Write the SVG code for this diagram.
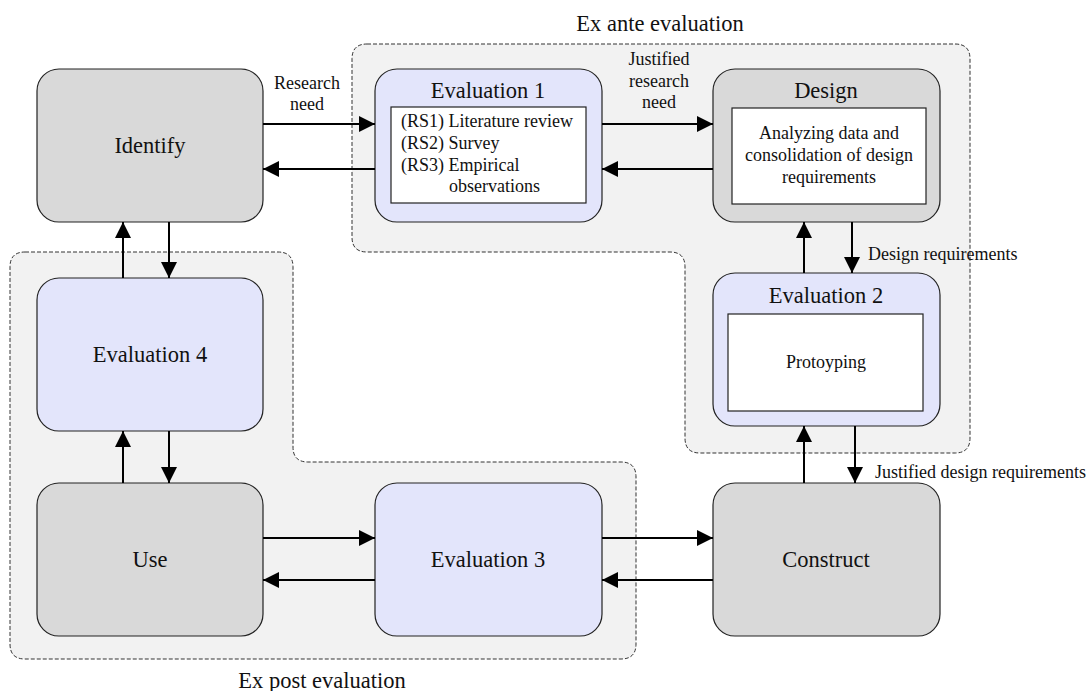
<svg xmlns="http://www.w3.org/2000/svg" width="1091" height="691" viewBox="0 0 1091 691" font-family="'Liberation Serif', 'Times New Roman', serif">
<style>
.region{fill:#f2f2f2;stroke:#333;stroke-width:1;stroke-dasharray:4 2}
.gray{fill:#d9d9d9;stroke:#222;stroke-width:1.2}
.blue{fill:#e3e5fb;stroke:#222;stroke-width:1.2}
.inner{fill:#fff;stroke:#222;stroke-width:1.2}
text{font-family:"Liberation Serif","Times New Roman",serif;fill:#111}
.title{font-size:22.5px;text-anchor:middle}
.body{font-size:18px}
.lbl{font-size:18px}
.big{font-size:22.5px;text-anchor:middle}
.mid{text-anchor:middle}
.conn line{stroke:#000;stroke-width:2}
</style>
<defs>
<marker id="ah" markerWidth="16" markerHeight="16" refX="16" refY="8" orient="auto" markerUnits="userSpaceOnUse">
<path d="M0,0 L16,8 L0,16 Z" fill="#000"/>
</marker>
</defs>
<g id="regions">
<path class="region" d="M367 44 H955 Q970 44 970 59 V438 Q970 453 955 453 H700 Q685 453 685 438 V267 Q685 252 670 252 H367 Q352 252 352 237 V59 Q352 44 367 44 Z"/>
<path class="region" d="M25 252 H278 Q293 252 293 267 V447 Q293 462 308 462 H621 Q636 462 636 477 V644 Q636 659 621 659 H25 Q10 659 10 644 V267 Q10 252 25 252 Z"/>
<text x="660" y="31" class="big">Ex ante evaluation</text>
<text x="322" y="688" class="big">Ex post evaluation</text>
</g>
<g id="identify">
<rect class="gray" x="37" y="69" width="226" height="153" rx="22"/>
<text class="title" x="150" y="153">Identify</text>
</g>
<g id="evaluation1">
<rect class="blue" x="375" y="69" width="227" height="153" rx="22"/>
<text class="title" x="488" y="98">Evaluation 1</text>
<rect class="inner" x="391" y="107" width="195" height="96"/>
<text class="body" x="401" y="127">(RS1) Literature review</text>
<text class="body" x="401" y="149">(RS2) Survey</text>
<text class="body" x="401" y="171">(RS3) Empirical</text>
<text class="body" x="449" y="192">observations</text>
</g>
<g id="design">
<rect class="gray" x="713" y="69" width="227" height="153" rx="22"/>
<text class="title" x="826" y="98">Design</text>
<rect class="inner" x="732" y="108" width="194" height="96"/>
<text class="body mid" x="829" y="139">Analyzing data and</text>
<text class="body mid" x="829" y="161">consolidation of design</text>
<text class="body mid" x="829" y="183">requirements</text>
</g>
<g id="evaluation2">
<rect class="blue" x="713" y="273" width="227" height="153" rx="22"/>
<text class="title" x="826" y="303">Evaluation 2</text>
<rect class="inner" x="728" y="314" width="195" height="97"/>
<text class="body mid" x="826" y="368">Protoyping</text>
</g>
<g id="evaluation4">
<rect class="blue" x="37" y="278" width="226" height="153" rx="22"/>
<text class="title" x="150" y="362">Evaluation 4</text>
</g>
<g id="use">
<rect class="gray" x="37" y="483" width="226" height="153" rx="22"/>
<text class="title" x="150" y="567">Use</text>
</g>
<g id="evaluation3">
<rect class="blue" x="375" y="483" width="227" height="153" rx="22"/>
<text class="title" x="488" y="567">Evaluation 3</text>
</g>
<g id="construct">
<rect class="gray" x="713" y="483" width="227" height="153" rx="22"/>
<text class="title" x="826" y="567">Construct</text>
</g>
<g id="connectors" class="conn">
<line x1="263" y1="124" x2="375" y2="124" marker-end="url(#ah)"/>
<line x1="375" y1="169" x2="263" y2="169" marker-end="url(#ah)"/>
<line x1="602" y1="124" x2="713" y2="124" marker-end="url(#ah)"/>
<line x1="713" y1="169" x2="602" y2="169" marker-end="url(#ah)"/>
<line x1="123" y1="278" x2="123" y2="222" marker-end="url(#ah)"/>
<line x1="169" y1="222" x2="169" y2="278" marker-end="url(#ah)"/>
<line x1="123" y1="483" x2="123" y2="431" marker-end="url(#ah)"/>
<line x1="169" y1="431" x2="169" y2="483" marker-end="url(#ah)"/>
<line x1="804" y1="273" x2="804" y2="222" marker-end="url(#ah)"/>
<line x1="852" y1="222" x2="852" y2="273" marker-end="url(#ah)"/>
<line x1="804" y1="483" x2="804" y2="426" marker-end="url(#ah)"/>
<line x1="855" y1="426" x2="855" y2="483" marker-end="url(#ah)"/>
<line x1="263" y1="538" x2="375" y2="538" marker-end="url(#ah)"/>
<line x1="375" y1="580" x2="263" y2="580" marker-end="url(#ah)"/>
<line x1="602" y1="538" x2="713" y2="538" marker-end="url(#ah)"/>
<line x1="713" y1="580" x2="602" y2="580" marker-end="url(#ah)"/>
</g>
<g id="labels">
<text class="lbl mid" x="307" y="89">Research</text>
<text class="lbl mid" x="307" y="110">need</text>
<text class="lbl mid" x="659" y="65">Justified</text>
<text class="lbl mid" x="659" y="87">research</text>
<text class="lbl mid" x="659" y="108">need</text>
<text class="lbl" x="868" y="260">Design requirements</text>
<text class="lbl" x="875" y="478">Justified design requirements</text>
</g>
</svg>
